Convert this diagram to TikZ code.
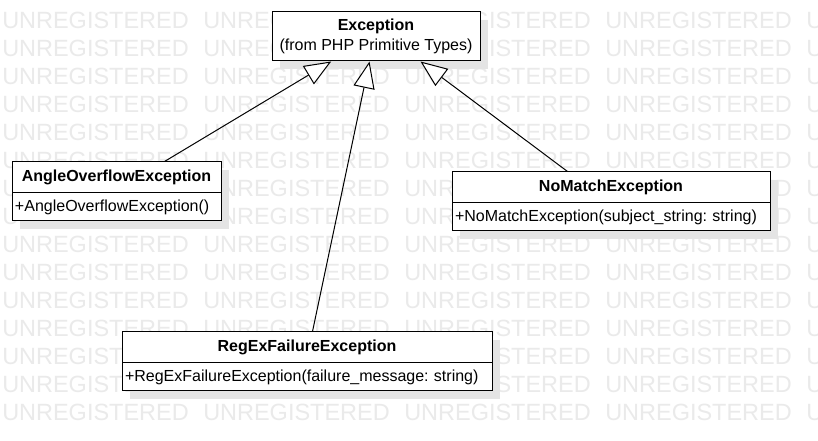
\documentclass[tikz,border=0pt]{standalone}
\usepackage{fontspec}
\setmainfont{Liberation Sans}
\usetikzlibrary{arrows.meta,shadows}
\frenchspacing
\definecolor{wmgray}{RGB}{234,234,234}
\definecolor{shgray}{RGB}{228,228,228}
\def\px{0.75pt}
\tikzset{
  wm/.style={inner sep=0pt, anchor=west, text=wmgray, font=\fontsize{17.6}{20}\selectfont},
  boxbase/.style={draw=black, line width=1*\px, fill=white, inner sep=0pt,
    general shadow={fill=shgray, shadow xshift=8*\px, shadow yshift=-8*\px}},
  clsname/.style={boxbase, font=\fontsize{12}{15}\selectfont\bfseries, minimum height=31*\px},
  clsop/.style={boxbase, font=\fontsize{12}{15}\selectfont, minimum height=28*\px, align=left, inner xsep=3*\px},
  gen/.style={line width=1*\px, -{Triangle[fill=white, length=20pt, width=16pt, line width=1*\px]}}
}
\begin{document}
\begin{tikzpicture}[x=0.75pt,y=-0.75pt]
\useasboundingbox[fill=white] (0,0) rectangle (818,441);
\begin{scope}
\clip (0,0) rectangle (818,441);
\foreach \r in {0,...,14}{
  \foreach \c in {0,...,4}{
    \node[wm] (wm-\r-\c) at (2+201*\c, 20+28*\r) {UNREGISTERED};
  }
}
\end{scope}

% Exception
\node[boxbase, minimum width=208*\px, minimum height=49*\px, align=center,
      font=\fontsize{12}{15}\selectfont] (exc) at (376,36.5)
      {\textbf{Exception}\\(from PHP Primitive Types)};

% AngleOverflowException
\node[clsname, minimum width=209*\px] (angN) at (116.5,177.5) {AngleOverflowException};
\node[clsop, text width=203*\px] (angM) at (116.5,207) {+AngleOverflowException()};

% NoMatchException
\node[clsname, minimum width=318*\px] (noN) at (611,187.5) {NoMatchException};
\node[clsop, text width=312*\px] (noM) at (611,217) {+NoMatchException(subject\_string: string)};

% RegExFailureException
\node[clsname, minimum width=370*\px] (regN) at (307,347.5) {RegExFailureException};
\node[clsop, text width=364*\px] (regM) at (307,377) {+RegExFailureException(failure\_message: string)};

% generalizations
\draw[gen] ([xshift=153*\px]angN.north west) -- ([xshift=59.7*\px]exc.south west);
\draw[gen] ([xshift=191*\px]regN.north west) -- ([xshift=98*\px]exc.south west);
\draw[gen] ([xshift=116*\px]noN.north west) -- ([xshift=149*\px]exc.south west);
\end{tikzpicture}
\end{document}
